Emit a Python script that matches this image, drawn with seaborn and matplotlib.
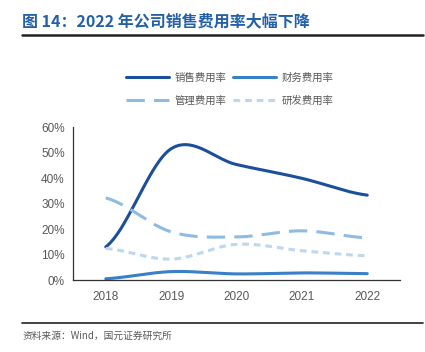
import numpy as np
import pandas as pd
import matplotlib
matplotlib.use('Agg')
import matplotlib.pyplot as plt
import seaborn as sns

years = ['2018', '2019', '2020', '2021', '2022']
sales_rate = [13.0, 51.5, 45.3, 39.9, 33.3]
finance_rate = [0.5, 3.3, 2.4, 2.8, 2.5]
admin_rate = [32.2, 18.9, 16.9, 19.3, 16.5]
rd_rate = [12.4, 8.2, 14.0, 11.5, 9.5]
y_ticks = [0, 10, 20, 30, 40, 50, 60]

sns.set_style('white')
plt.rcParams['font.family'] = ['Noto Sans CJK SC', 'DejaVu Sans']


# Excel-style smooth line (Catmull-Rom), only used for drawing
def smooth(vals, n=40):
    y = np.asarray(vals, dtype=float)
    p = np.concatenate([[y[0]], y, [y[-1]]])
    xs, ys = [], []
    for i in range(len(y) - 1):
        p0, p1, p2, p3 = p[i], p[i + 1], p[i + 2], p[i + 3]
        t = np.linspace(0, 1, n, endpoint=(i == len(y) - 2))
        yy = 0.5 * ((2 * p1) + (-p0 + p2) * t + (2 * p0 - 5 * p1 + 4 * p2 - p3) * t ** 2
                    + (-p0 + 3 * p1 - 3 * p2 + p3) * t ** 3)
        xs.extend(i + t)
        ys.extend(yy)
    return np.array(xs), np.array(ys)


series = [
    ('销售费用率', sales_rate, '#1b4f9b', None),
    ('财务费用率', finance_rate, '#3a80c8', None),
    ('管理费用率', admin_rate, '#8dbbe4', (6, 3)),
    ('研发费用率', rd_rate, '#bdd7ef', (2.2, 1.6)),
]

fig = plt.figure(figsize=(4.25, 3.52), dpi=100)
ax = fig.add_axes([0.172, 0.2045, 0.769, 0.4345])

for name, vals, color, dash in series:
    xs, ys = smooth(vals)
    df = pd.DataFrame({'x': xs, 'y': ys})
    sns.lineplot(data=df, x='x', y='y', ax=ax, color=color, lw=2.2,
                 sort=False, label=name)
    if dash is not None:
        ax.lines[-1].set_dashes(dash)

num_font = ['Liberation Sans', 'DejaVu Sans']
ax.set_xlim(-0.5, 4.5)
ax.set_ylim(0, 60)
ax.set_xticks(range(len(years)))
ax.set_xticklabels(years, family=num_font)
ax.set_xticks(np.arange(0.5, 5, 1), minor=True)
ax.set_yticks(y_ticks)
ax.set_yticklabels([f'{v}%' for v in y_ticks], family=num_font)
ax.tick_params(axis='x', which='major', length=0, pad=8, labelsize=8.5, labelcolor='#595959')
ax.tick_params(axis='x', which='minor', length=3, width=0.8, color='#333333', direction='out')
ax.tick_params(axis='y', length=3, width=0.8, color='#333333', direction='out',
               labelsize=8.5, labelcolor='#595959', pad=3)
ax.set_xlabel('')
ax.set_ylabel('')
for s in ['top', 'right']:
    ax.spines[s].set_visible(False)
for s in ['left', 'bottom']:
    ax.spines[s].set_color('#333333')
    ax.spines[s].set_linewidth(0.9)

handles, labels = ax.get_legend_handles_labels()
order = [0, 2, 1, 3]
fig.legend([handles[i] for i in order], [labels[i] for i in order], loc='center',
           bbox_to_anchor=(0.54, 0.746), ncol=2,
           frameon=False, fontsize=7.5, handlelength=4.2, columnspacing=0.6,
           handletextpad=0.5, labelspacing=1.2, labelcolor='#595959')
ax.get_legend().remove()

fig.text(0.052, 0.938, '图 14：2022 年公司销售费用率大幅下降', fontsize=11.5,
         fontweight='bold', color='#2460a7', va='center')
fig.add_artist(plt.Line2D([0.052, 0.995], [0.901, 0.901], color='#222222', lw=1.8))
fig.add_artist(plt.Line2D([0.052, 0.995], [0.083, 0.083], color='#222222', lw=1.2))
fig.text(0.052, 0.045, '资料来源：Wind，国元证券研究所', fontsize=7, color='#595959', va='center')

fig.savefig('out.png', dpi=100)
